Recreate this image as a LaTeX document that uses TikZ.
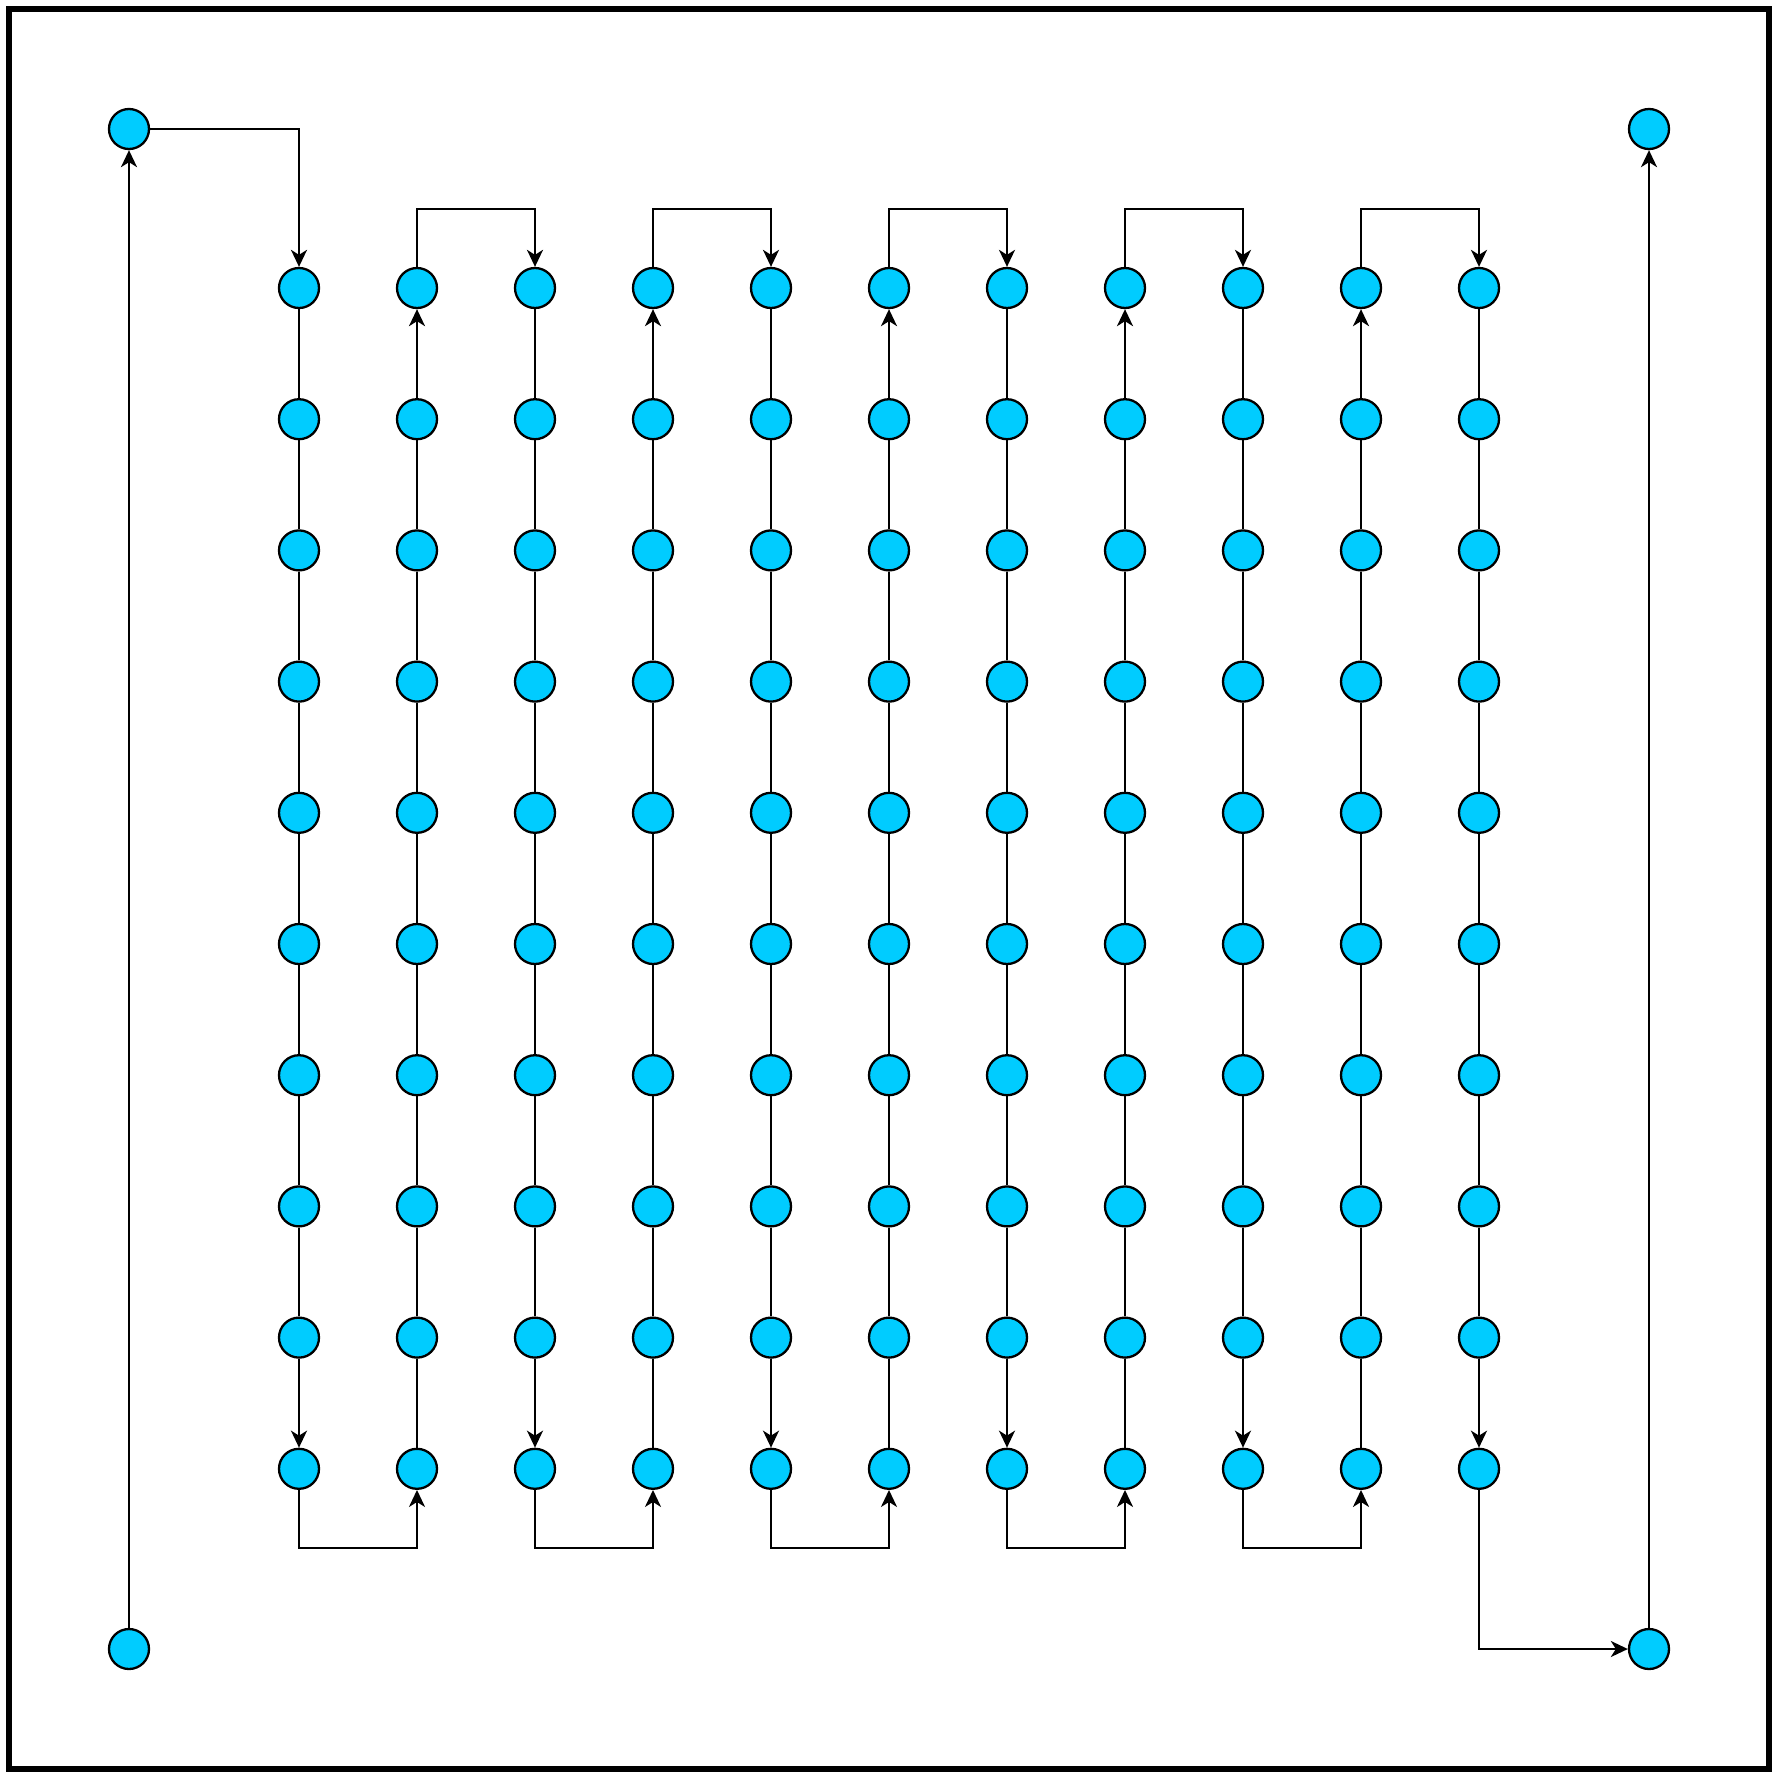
\documentclass[tikz,border=0pt]{standalone}
\usepackage{tikz}
\usetikzlibrary{arrows.meta}

\begin{document}
\begin{tikzpicture}[x=1pt, y=-1pt, >={Stealth[length=17pt, width=16pt, inset=5pt]},
  dot/.style={circle, draw=black, fill=cellblue, line width=2.3pt, minimum size=40pt, inner sep=0pt},
  wire/.style={line width=2.3pt, draw=black},
  flow/.style={->, line width=2.3pt, draw=black}]
\definecolor{cellblue}{RGB}{0,204,255}
\useasboundingbox (0,0) rectangle (1778,1778);
% outer frame
\draw[line width=6pt] (9,9) rectangle (1769,1769);
% corner nodes
\node[dot] (tl) at (129,129) {};
\node[dot] (tr) at (1649,129) {};
\node[dot] (bl) at (129,1649) {};
\node[dot] (br) at (1649,1649) {};
\coordinate (high) at (0,209);
\coordinate (low) at (0,1548);
% grid of 11 columns x 10 rows
\foreach \i in {1,...,11} {
  \pgfmathsetmacro{\x}{299 + (\i-1)*118}
  \foreach \j in {1,...,10} {
    \node[dot] (n-\i-\j) at (\x, {288 + (\j-1)*131.2}) {};
  }
}
% column links, arrow on the last step of each column
\foreach \i in {1,...,11} {
  \foreach \j [count=\k from 2] in {1,...,9} {
    \ifodd\i
      \ifnum\j=9 \draw[flow] (n-\i-\j) -- (n-\i-\k); \else \draw[wire] (n-\i-\j) -- (n-\i-\k); \fi
    \else
      \ifnum\j=1 \draw[flow] (n-\i-\k) -- (n-\i-\j); \else \draw[wire] (n-\i-\j) -- (n-\i-\k); \fi
    \fi
  }
}
% turns at the bottom and the top
\foreach \i [evaluate=\i as \n using int(\i+1)] in {1,3,5,7,9}
  \draw[flow] (n-\i-10) -- (n-\i-10 |- low) -| (n-\n-10);
\foreach \i [evaluate=\i as \n using int(\i+1)] in {2,4,6,8,10}
  \draw[flow] (n-\i-1) -- (n-\i-1 |- high) -| (n-\n-1);
% in and out
\draw[flow] (bl) -- (tl);
\draw[flow] (tl) -| (n-1-1);
\draw[flow] (n-11-10) |- (br);
\draw[flow] (br) -- (tr);
\end{tikzpicture}
\end{document}
